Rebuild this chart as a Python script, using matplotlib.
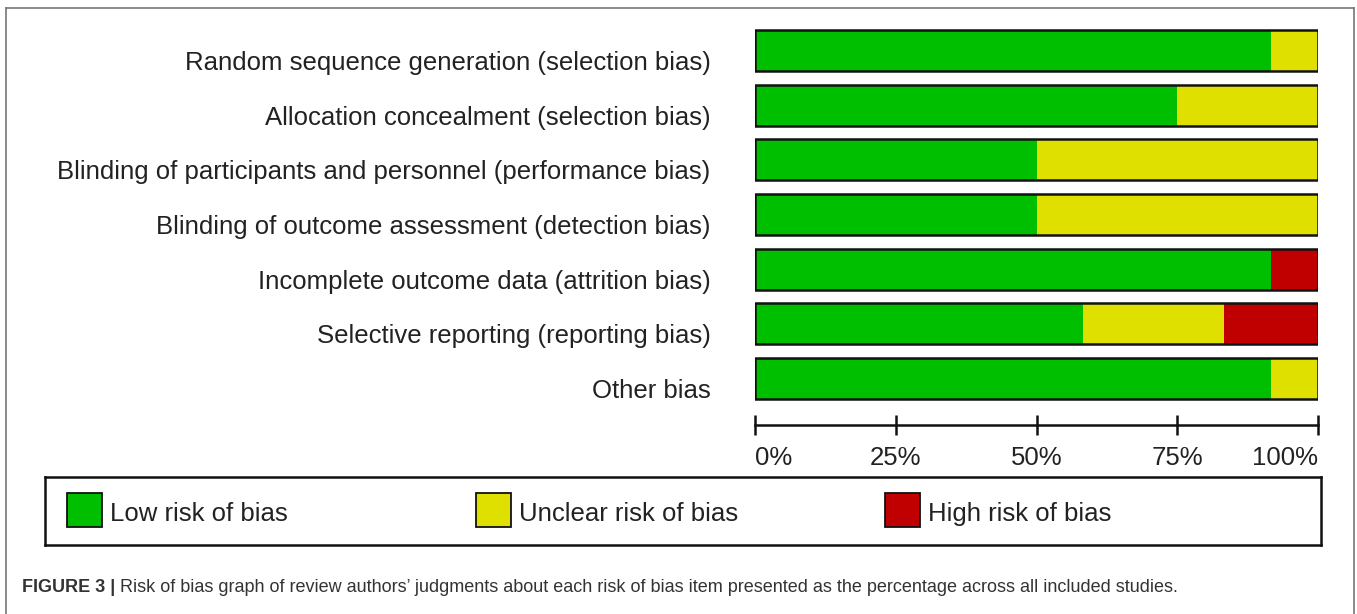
import matplotlib
matplotlib.use("Agg")
import matplotlib.pyplot as plt
from matplotlib.patches import Rectangle
from matplotlib.lines import Line2D
from matplotlib.transforms import ScaledTranslation
import numpy as np

plt.rcParams['font.family'] = ['Liberation Sans', 'DejaVu Sans']

categories = [
    "Random sequence generation (selection bias)",
    "Allocation concealment (selection bias)",
    "Blinding of participants and personnel (performance bias)",
    "Blinding of outcome assessment (detection bias)",
    "Incomplete outcome data (attrition bias)",
    "Selective reporting (reporting bias)",
    "Other bias",
]
low_risk = [91.7, 75.0, 50.0, 50.0, 91.7, 58.3, 91.7]
unclear_risk = [8.3, 25.0, 50.0, 50.0, 0.0, 25.0, 8.3]
high_risk = [0.0, 0.0, 0.0, 0.0, 8.3, 16.7, 0.0]
series_names = ["Low risk of bias", "Unclear risk of bias", "High risk of bias"]
series_colors = ["#00BF00", "#E0E000", "#C00000"]
tick_values = [0, 25, 50, 75, 100]
tick_labels = ["0%", "25%", "50%", "75%", "100%"]
caption_bold = "FIGURE 3 |"
caption_text = ("Risk of bias graph of review authors\u2019 judgments about each risk of bias "
                "item presented as the percentage across all included studies.")

W, H = 1357, 614
fig = plt.figure(figsize=(W / 100, H / 100), dpi=100)

def fx(px):
    return px / W

def fy(py):
    return 1 - py / H

# bar axes
top_px, bot_px = 23.3, 406.0
left_px, right_px = 755, 1318
ax = fig.add_axes([fx(left_px), fy(bot_px), fx(right_px - left_px), (bot_px - top_px) / H])
y = np.arange(len(categories))
series = [low_risk, unclear_risk, high_risk]
left = np.zeros(len(categories))
for vals, col in zip(series, series_colors):
    vals = np.array(vals)
    ax.barh(y, vals, left=left, height=0.75, color=col, edgecolor='none', linewidth=0)
    left = left + vals
# black outline around full bars
ax.barh(y, left, height=0.75, color='none', edgecolor='#111111', linewidth=1.8)
ax.set_xlim(0, 100)
ax.set_ylim(len(categories) - 0.5, -0.5)
ax.set_yticks(y)
ax.set_yticklabels(categories, fontsize=18.5, color='#222222')
ax.tick_params(axis='y', length=0, pad=32)
shift = ScaledTranslation(0, -10 / 100, fig.dpi_scale_trans)
for lab in ax.get_yticklabels():
    lab.set_transform(lab.get_transform() + shift)
for s in ['top', 'right', 'left']:
    ax.spines[s].set_visible(False)
ax.spines['bottom'].set_position(('outward', 14))
ax.spines['bottom'].set_linewidth(1.8)
ax.spines['bottom'].set_color('#111111')
ax.set_xticks(tick_values)
ax.set_xticklabels(tick_labels, fontsize=18.5, color='#222222')
ax.tick_params(axis='x', direction='inout', length=14, width=1.8, color='#111111', pad=8)
xl = ax.get_xticklabels()
xl[0].set_ha('left')
xl[-1].set_ha('right')
ax.patch.set_visible(False)

# legend box
lx0, lx1, ly0, ly1 = 45, 1321, 477, 545
lax = fig.add_axes([fx(lx0), fy(ly1), fx(lx1 - lx0), (ly1 - ly0) / H])
lax.set_xlim(lx0, lx1)
lax.set_ylim(ly1, ly0)
lax.set_xticks([])
lax.set_yticks([])
for s in lax.spines.values():
    s.set_linewidth(1.8)
    s.set_color('#111111')
entry_x = [67, 476, 885]
for ex, name, col in zip(entry_x, series_names, series_colors):
    lax.add_patch(Rectangle((ex, 493), 35, 34, facecolor=col, edgecolor='#111111', linewidth=1.3))
    lax.text(ex + 43, 514, name, fontsize=18.5, color='#222222', va='center', ha='left')

# outer frame
frame_col = '#777777'
fig.add_artist(Line2D([fx(6), fx(6)], [fy(8), 0], transform=fig.transFigure, color=frame_col, lw=1.2))
fig.add_artist(Line2D([fx(1354), fx(1354)], [fy(8), 0], transform=fig.transFigure, color=frame_col, lw=1.2))
fig.add_artist(Line2D([fx(6), fx(1354)], [fy(8), fy(8)], transform=fig.transFigure, color=frame_col, lw=1.2))

# caption
t1 = fig.text(fx(22), fy(588), caption_bold, fontsize=13.0, fontweight='bold', color='#333333', va='center', ha='left')
fig.canvas.draw()
bb = t1.get_window_extent(renderer=fig.canvas.get_renderer())
fig.text(bb.x1 / W + fx(5), fy(588), caption_text, fontsize=13.0, color='#333333', va='center', ha='left')

fig.savefig("out.png", dpi=100)
